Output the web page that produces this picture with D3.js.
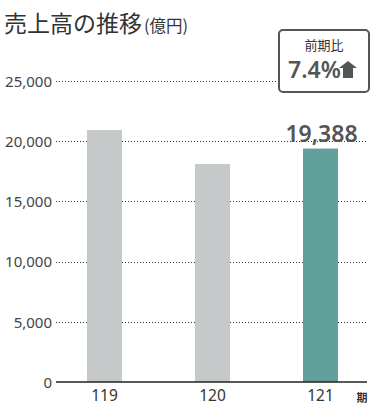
<!DOCTYPE html>
<html><head><meta charset="utf-8">
<script src="https://cdn.jsdelivr.net/npm/d3@7"></script>
<style>
html,body{margin:0;padding:0;background:#fff;}
svg{display:block;font-family:"Noto Sans","Noto Sans CJK JP",sans-serif;}
</style></head>
<body>
<svg id="chart" width="384" height="413"></svg>
<script>
const categories = ["119", "120", "121"];
const values = [20930, 18100, 19388];
const yTicks = [0, 5000, 10000, 15000, 20000, 25000];
const highlightLabel = "19,388";
const changeLabel = "前期比";
const changeValue = "7.4%";
const title = "売上高の推移";
const unit = "(億円)";
const xUnit = "期";

const svg = d3.select("#chart");
const x = d3.scaleBand().domain(categories).range([50.5, 374.5]).paddingInner(0.676).paddingOuter(0.338);
const y = d3.scaleLinear().domain([0, 25000]).range([382, 81]);

// title
const t = svg.append("text").attr("x", 4).attr("y", 32).attr("fill", "#333");
t.append("tspan").attr("font-size", 23).text(title);
t.append("tspan").attr("font-size", 16.5).attr("dx", 2).attr("font-family", "Noto Sans CJK JP").text(unit);

// gridlines
svg.append("g").selectAll("line").data(yTicks.filter(d => d > 0)).join("line")
  .attr("x1", 56).attr("x2", 367)
  .attr("y1", d => Math.round(y(d)) + 0.5).attr("y2", d => Math.round(y(d)) + 0.5)
  .attr("stroke", "#333").attr("stroke-width", 1).attr("stroke-dasharray", "1,2");

// y axis labels
const yAxis = d3.axisLeft(y).tickValues(yTicks).tickSize(0).tickPadding(0).tickFormat(d3.format(","));
const ya = svg.append("g").attr("transform", "translate(52,0)").call(yAxis);
ya.select(".domain").remove();
ya.selectAll("text").attr("font-size", 15).attr("fill", "#444").attr("font-family", "Noto Sans").attr("dy", "0.35em");

// bars
svg.append("g").selectAll("rect").data(values).join("rect")
  .attr("x", (d, i) => x(categories[i]))
  .attr("width", x.bandwidth())
  .attr("y", d => y(d))
  .attr("height", d => y(0) - y(d))
  .attr("fill", (d, i) => i === categories.length - 1 ? "#62a09c" : "#c5c9c9");

// baseline
svg.append("line").attr("x1", 56).attr("x2", 367).attr("y1", 382).attr("y2", 382)
  .attr("stroke", "#222").attr("stroke-width", 1.5);

// x axis labels
const xAxis = d3.axisBottom(x).tickSize(0).tickPadding(0);
const xa = svg.append("g").attr("transform", "translate(0,382)").call(xAxis);
xa.select(".domain").remove();
xa.selectAll("text").attr("font-size", 15.5).attr("fill", "#333").attr("font-family", "Noto Sans").attr("dy", 19);

svg.append("text").attr("x", 362).attr("y", 402).attr("text-anchor", "middle")
  .attr("font-size", 11).attr("font-weight", 700).attr("fill", "#333").text(xUnit);

// highlight value label
const last = categories.length - 1;
svg.append("text").attr("x", x(categories[last]) + x.bandwidth() / 2 + 1).attr("y", y(values[last]) - 7)
  .attr("text-anchor", "middle").attr("font-size", 23).attr("font-weight", 600)
  .attr("fill", "#555").text(highlightLabel);

// change box
svg.append("rect").attr("x", 279).attr("y", 30).attr("width", 90).attr("height", 62)
  .attr("rx", 4).attr("fill", "#fff").attr("stroke", "#555").attr("stroke-width", 2);
svg.append("text").attr("x", 324).attr("y", 50).attr("text-anchor", "middle")
  .attr("font-size", 13).attr("fill", "#333").text(changeLabel);
svg.append("text").attr("x", 288).attr("y", 78)
  .attr("font-size", 23).attr("font-weight", 600).attr("fill", "#555").text(changeValue);
// up arrow
svg.append("path")
  .attr("d", "M348,61 L357,68 L353,68 L353,78 L343,78 L343,68 L339,68 Z")
  .attr("fill", "#555");
</script>
</body></html>
